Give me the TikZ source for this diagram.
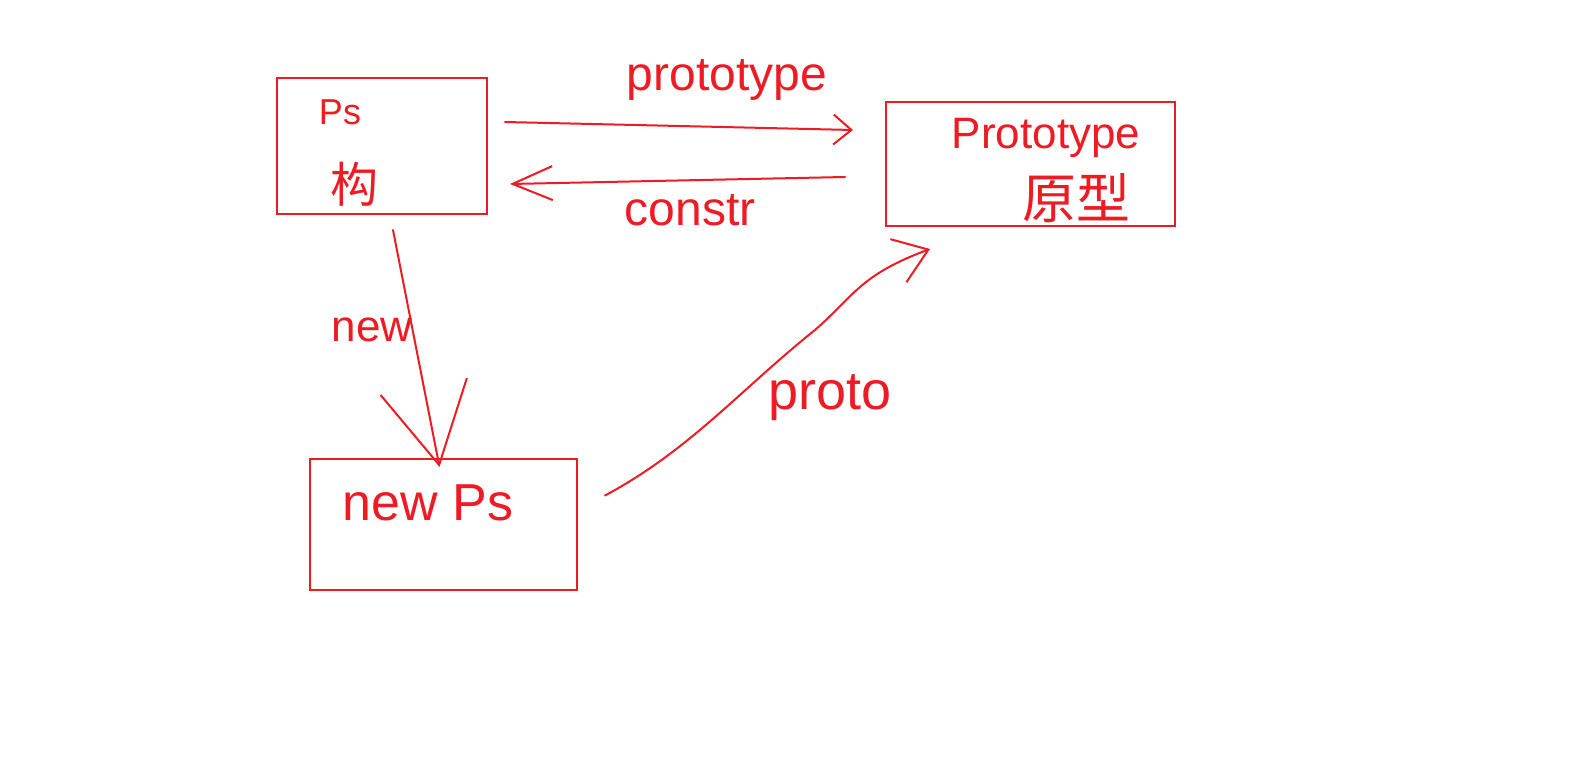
\documentclass[tikz,border=0pt]{standalone}
\usepackage{fontspec}
\setmainfont{Liberation Sans}
\newfontfamily\cjk{Noto Sans CJK SC}
\usetikzlibrary{arrows.meta,calc}
\definecolor{pen}{HTML}{ED1C24}
\begin{document}
\begin{tikzpicture}[x=1pt,y=-1pt,
  box/.style={draw=pen, line width=2pt, inner sep=0pt, anchor=north west},
  conn/.style={draw=pen, line width=2pt, line cap=round, -{Straight Barb[length=18pt,width=30pt,line width=2pt]}},
  lbl/.style={text=pen, inner sep=0pt},
  cj/.style={text=pen, inner sep=0pt}]
\useasboundingbox (0,0) rectangle (1593,778);
\fill[white] (0,0) rectangle (1593,778);
% boxes
\node[box, minimum width=210pt, minimum height=136pt] (ps) at (276,77) {};
\node[box, minimum width=289pt, minimum height=124pt] (proto) at (885,101) {};
\node[box, minimum width=267pt, minimum height=131pt] (newps) at (309,458) {};
% box texts
\node[lbl, font=\fontsize{36}{40}\selectfont] (tps) at (340,112) {Ps};
\node[cj, font=\cjk\fontsize{48}{52}\selectfont] (tgou) at (354,184) {构};
\node[lbl, font=\fontsize{44}{48}\selectfont] (tprototype) at (1046,138) {Prototype};
\node[cj, font=\cjk\fontsize{54}{58}\selectfont] (tyuanxing) at (1076,198) {原型};
\node[lbl, font=\fontsize{52}{56}\selectfont] (tnewps) at (428,503) {new Ps};
% connectors
\draw[conn] ($(ps.north east)+(17,45)$) -- ($(proto.north west)+(-32,29)$);
\node[lbl, font=\fontsize{48}{52}\selectfont] (lprototype) at (727,80) {prototype};
\draw[conn, -{Straight Barb[length=40pt,width=34pt,line width=2pt]}] ($(proto.north west)+(-40,76)$) -- ($(ps.north east)+(22,107)$);
\node[lbl, font=\fontsize{48}{52}\selectfont] (lconstr) at (690,210) {constr};
\draw[conn, -{Straight Barb[length=80pt,width=88pt,line width=2pt]}] ($(ps.south)+(11,15)$) -- ($(newps.north)+(-4,9)$);
\node[lbl, font=\fontsize{44}{48}\selectfont] (lnew) at (372,330) {new};
\draw[conn, -{Straight Barb[length=32pt,width=46pt,line width=2pt]}] ($(newps.east)+(27,-29)$) .. controls (690,450) and (740,390) .. (815,330) .. controls (855,295) and (860,275) .. ($(proto.south west)+(45,22)$);
\node[lbl, font=\fontsize{54}{58}\selectfont] (lproto) at (830,398) {proto};
\end{tikzpicture}
\end{document}
